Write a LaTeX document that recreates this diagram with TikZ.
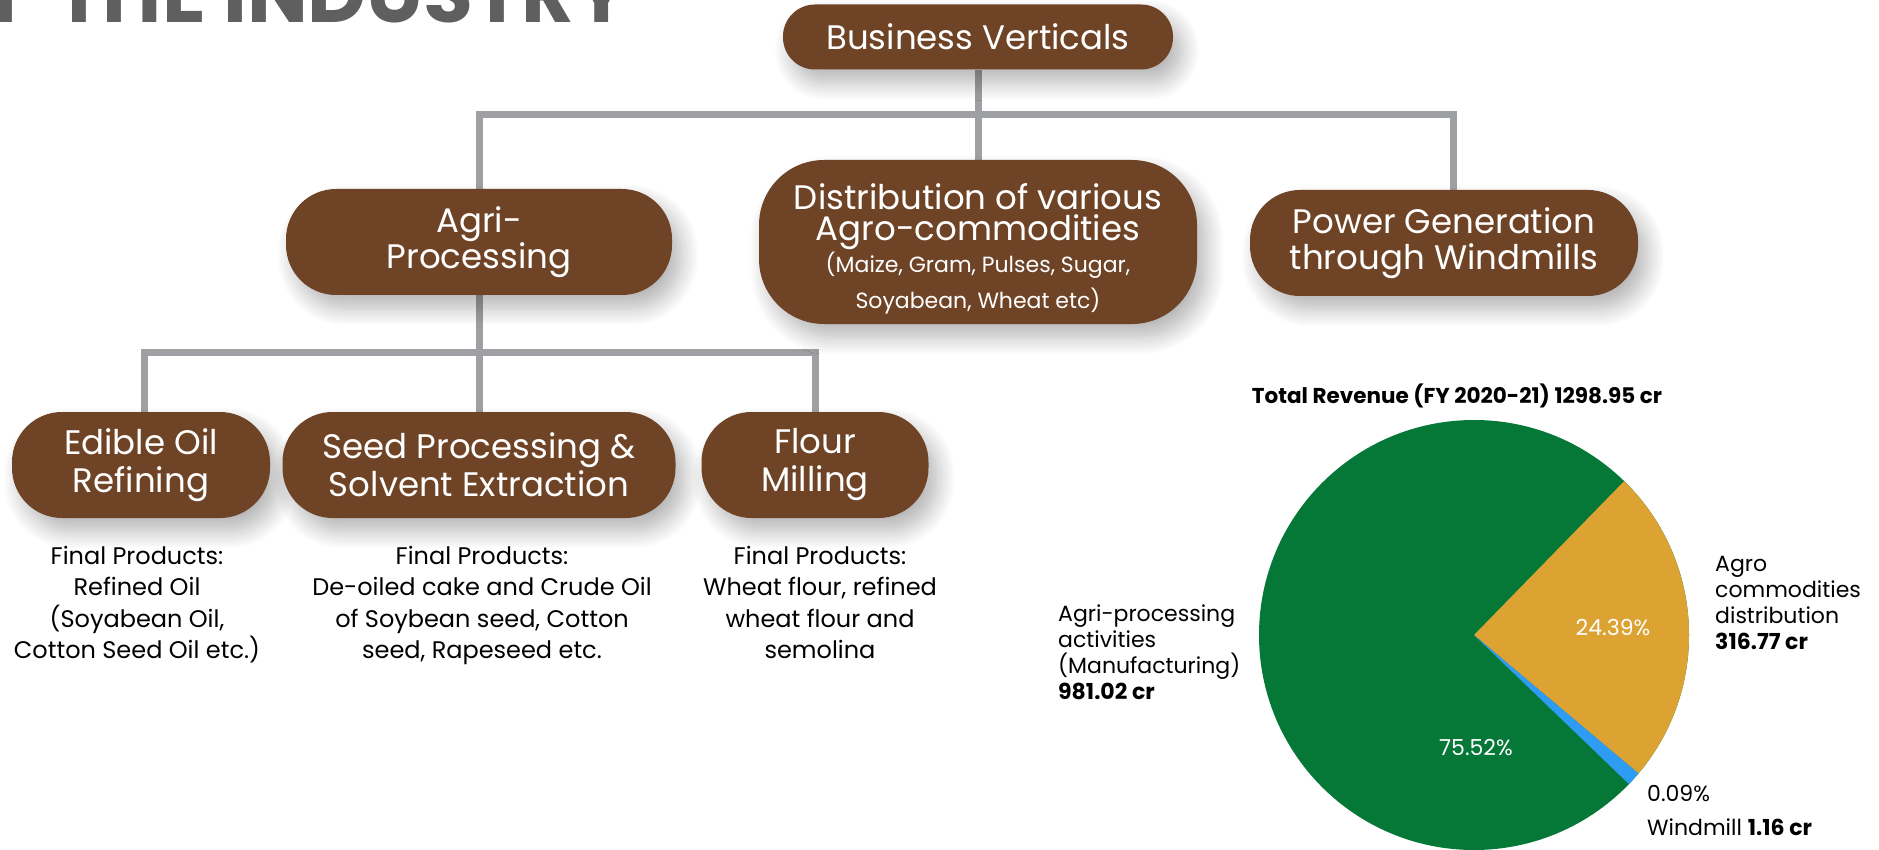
\documentclass[tikz,border=0pt]{standalone}
\usepackage{fontspec}
\setmainfont{Poppins}
\usepackage{xcolor}
\definecolor{barkbrown}{HTML}{6F4426}
\definecolor{linkgray}{HTML}{9EA0A3}
\definecolor{headgray}{HTML}{5F5F5F}
\definecolor{agrigreen}{HTML}{057838}
\definecolor{agrogold}{HTML}{DCA232}
\definecolor{windblue}{HTML}{2D9CF2}
\usepackage{tikz}
\usetikzlibrary{shadows.blur,backgrounds}
\tikzstyle{unitbox} = [fill=barkbrown, text=white, align=center,
  rounded corners=50pt, inner sep=0pt, minimum height=106pt,
  font=\fontsize{34}{36}\selectfont,
  blur shadow={shadow xshift=9pt, shadow yshift=-13pt,
    shadow blur radius=18pt, shadow blur steps=14, shadow opacity=30}]
\tikzstyle{linkbar} = [draw=linkgray, line width=7pt]
\tikzstyle{notetext} = [align=center, inner sep=0pt,
  font=\fontsize{24}{31.5}\selectfont]
\tikzstyle{pielabel} = [align=left, inner sep=0pt,
  font=\fontsize{22}{26}\selectfont]
\tikzstyle{pctlabel} = [text=white, inner sep=0pt,
  font=\fontsize{22}{22}\selectfont]
\newcommand{\smalltype}{\fontsize{22}{28}\selectfont}

\begin{document}
\begin{tikzpicture}[x=1pt, y=-1pt]
  \clip (0,0) rectangle (1879,850);
  % heading, cut by the top edge
  \node[anchor=base east, inner sep=0pt, text=headgray,
    font=\fontsize{81}{81}\selectfont\bfseries] (head) at (629,23) {OF THE INDUSTRY};

  \node[unitbox, minimum width=390pt, minimum height=65pt,
    rounded corners=32pt] (bv) at (978,37) {Business Verticals};
  \node[unitbox, minimum width=386pt] (agri) at (479,242) {Agri-\\Processing};
  \node[unitbox, minimum width=438pt, minimum height=164pt,
    rounded corners=65pt] (dist) at (978,242)
    {\rule{0pt}{40pt}Distribution of various\\[-5pt]Agro-commodities\\[-4pt]{\smalltype (Maize, Gram, Pulses, Sugar,}\\{\smalltype Soyabean, Wheat etc)}};
  \node[unitbox, minimum width=388pt] (power) at (1444,243) {Power Generation\\through Windmills};
  \node[unitbox, minimum width=258pt] (oil) at (141,465) {Edible Oil\\[2pt]Refining};
  \node[unitbox, minimum width=393pt] (seed) at (479,465) {Seed Processing \&\\[2pt]Solvent Extraction};
  \node[unitbox, minimum width=227pt] (flour) at (815,465) {Flour\\[2pt]Milling};

  % tree links
  \coordinate (top bar) at (978,115);
  \coordinate (mid bar) at (479,352);
  \begin{pgfonlayer}{background}
    \path[linkbar] (bv) -- (dist);
    \path[linkbar] (agri.north) |- (top bar) -| ([xshift=9pt]power.north);
    \path[linkbar] (agri) -- (seed);
    \path[linkbar] ([xshift=3pt]oil.north) |- (mid bar) -| (flour.north);
  \end{pgfonlayer}

  % final products
  \node[notetext, anchor=north] (oil note) at (137,546)
    {Final Products:\\Refined Oil\\(Soyabean Oil,\\Cotton Seed Oil etc.)};
  \node[notetext, anchor=north] (seed note) at (482,546)
    {Final Products:\\De-oiled cake and Crude Oil\\of Soybean seed, Cotton\\seed, Rapeseed etc.};
  \node[notetext, anchor=north] (flour note) at (820,546)
    {Final Products:\\Wheat flour, refined\\wheat flour and\\semolina};

  % revenue pie
  \node[anchor=base, inner sep=0pt, font=\fontsize{21.5}{21.5}\selectfont\bfseries]
    (total) at (1457,403) {Total Revenue (FY 2020-21) 1298.95 cr};
  \begin{scope}[shift={(1474,635)}, yscale=-1]
    \fill[agrigreen] (0,0) circle[radius=215];
    \fill[agrogold] (0,0) -- (45.7:215) arc[start angle=45.7, end angle=-40.1, radius=215] -- cycle;
    \fill[windblue] (0,0) -- (-40.1:215) arc[start angle=-40.1, end angle=-43.9, radius=215] -- cycle;
  \end{scope}
  \node[pctlabel] (gold pct) at (1613,628) {24.39\%};
  \node[pctlabel] (green pct) at (1476,748) {75.52\%};
  \node[pielabel, anchor=north west] (agro lbl) at (1715,556)
    {Agro\\commodities\\distribution\\\textbf{316.77 cr}};
  \node[pielabel, anchor=north west] (agri lbl) at (1058,605)
    {Agri-processing\\activities\\(Manufacturing)\\\textbf{981.02 cr}};
  \node[pielabel, anchor=north west] (wind lbl) at (1647,785)
    {0.09\%\\[8pt]Windmill \textbf{1.16 cr}};
\end{tikzpicture}
\end{document}
